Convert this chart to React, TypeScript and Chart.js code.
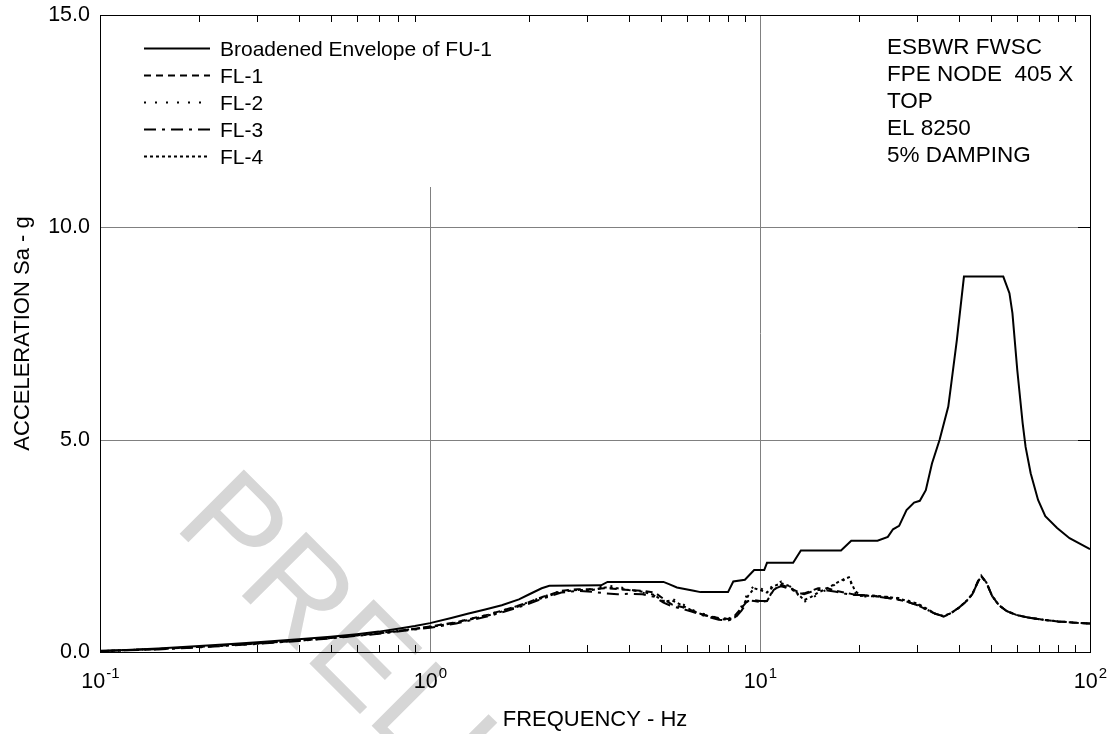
import React, { useEffect, useRef } from "react";
import { Chart, registerables } from "chart.js";

Chart.register(...registerables);

const FONT = "Arial, 'Liberation Sans', Helvetica, sans-serif";

// ---------- data ----------
const envFreq = [0.1, 0.12, 0.15, 0.2, 0.25, 0.3, 0.4, 0.5, 0.6, 0.7, 0.8, 0.9, 1.0, 1.16, 1.3, 1.47, 1.65, 1.86, 2.0, 2.18, 2.3, 3.3, 3.45, 5.1, 5.3, 5.6, 6.3, 6.6, 8.0, 8.3, 9.0, 9.6, 10.3, 10.5, 12.6, 13.3, 17.6, 18.9, 22.7, 24.4, 25.3, 26.4, 27.8, 29.3, 30.5, 31.8, 33.2, 35.0, 37.2, 38.0, 39.5, 41.5, 54.6, 57.0, 58.2, 60.2, 62.5, 63.8, 66.1, 69.6, 73.2, 79.5, 86.7, 100];
const envAccel = [0.03, 0.05, 0.08, 0.14, 0.19, 0.23, 0.3, 0.36, 0.42, 0.48, 0.55, 0.61, 0.68, 0.8, 0.9, 1.0, 1.1, 1.24, 1.36, 1.5, 1.56, 1.57, 1.65, 1.65, 1.6, 1.52, 1.44, 1.41, 1.41, 1.66, 1.7, 1.93, 1.93, 2.1, 2.1, 2.39, 2.39, 2.62, 2.62, 2.71, 2.89, 2.97, 3.34, 3.52, 3.56, 3.81, 4.44, 4.99, 5.78, 6.33, 7.35, 8.84, 8.84, 8.45, 7.98, 6.64, 5.39, 4.83, 4.21, 3.58, 3.2, 2.92, 2.68, 2.42];

const flFreq = [0.1, 0.15, 0.2, 0.3, 0.4, 0.5, 0.6, 0.7, 0.8, 0.9, 1.0, 1.2, 1.5, 1.8, 2.0, 2.2, 2.5, 2.8, 3.1, 3.4, 3.7, 4.0, 4.4, 4.8, 5.1, 5.4, 5.8, 6.2, 6.6, 7.0, 7.5, 8.0, 8.4, 8.8, 9.2, 9.6, 10.0, 10.5, 11.0, 11.6, 12.2, 13.0, 13.6, 14.3, 15.0, 16.0, 17.0, 18.0, 18.6, 19.4, 20.2, 22, 24, 26, 28, 30, 32, 34, 36, 38, 40, 42, 44, 45.8, 46.8, 48.5, 50.5, 53, 56, 60, 65, 72, 80, 90, 100];

const fl1 = [0.02, 0.07, 0.12, 0.2, 0.27, 0.33, 0.39, 0.44, 0.5, 0.55,
  0.6, 0.7, 0.88, 1.06, 1.18, 1.3, 1.44, 1.48, 1.48, 1.5,
  1.48, 1.46, 1.44, 1.4, 1.25, 1.12, 1.06, 0.98, 0.9, 0.84,
  0.8, 0.78, 0.86, 1.04, 1.22, 1.2, 1.18, 1.2, 1.46, 1.58,
  1.52, 1.42, 1.38, 1.44, 1.5, 1.5, 1.44, 1.4, 1.38, 1.35,
  1.34, 1.32, 1.28, 1.24, 1.18, 1.1, 1.0, 0.9, 0.83, 0.92,
  1.04, 1.18, 1.36, 1.68, 1.8, 1.64, 1.32, 1.1, 0.96, 0.87,
  0.81, 0.76, 0.72, 0.69, 0.67];

const fl2 = [0.02, 0.07, 0.12, 0.2, 0.27, 0.33, 0.39, 0.45, 0.5, 0.55,
  0.6, 0.7, 0.88, 1.06, 1.18, 1.3, 1.44, 1.46, 1.48, 1.56,
  1.54, 1.48, 1.4, 1.32, 1.2, 1.26, 1.14, 1.0, 0.92, 0.86,
  0.8, 0.78, 0.84, 1.08, 1.4, 1.56, 1.5, 1.44, 1.58, 1.66,
  1.58, 1.36, 1.18, 1.26, 1.36, 1.48, 1.6, 1.7, 1.74, 1.4,
  1.3, 1.32, 1.3, 1.28, 1.22, 1.12, 1.0, 0.9, 0.84, 0.92,
  1.04, 1.18, 1.36, 1.66, 1.78, 1.64, 1.32, 1.1, 0.96, 0.87,
  0.81, 0.76, 0.72, 0.69, 0.67];

const fl3 = [0.02, 0.06, 0.11, 0.19, 0.26, 0.32, 0.38, 0.43, 0.48, 0.53,
  0.57, 0.67, 0.84, 1.02, 1.14, 1.26, 1.4, 1.44, 1.42, 1.38,
  1.36, 1.37, 1.36, 1.3, 1.16, 1.08, 1.02, 0.95, 0.88, 0.82,
  0.76, 0.74, 0.8, 0.98, 1.2, 1.22, 1.2, 1.2, 1.48, 1.55,
  1.5, 1.4, 1.36, 1.42, 1.46, 1.45, 1.42, 1.38, 1.36, 1.34,
  1.34, 1.31, 1.28, 1.24, 1.18, 1.1, 1.0, 0.9, 0.84, 0.92,
  1.04, 1.18, 1.36, 1.66, 1.78, 1.64, 1.32, 1.1, 0.96, 0.87,
  0.81, 0.76, 0.72, 0.69, 0.67];

const fl4 = [0.02, 0.07, 0.12, 0.2, 0.27, 0.33, 0.39, 0.44, 0.49, 0.54,
  0.59, 0.69, 0.86, 1.04, 1.16, 1.28, 1.42, 1.46, 1.46, 1.52,
  1.5, 1.46, 1.42, 1.34, 1.18, 1.22, 1.1, 0.98, 0.9, 0.84,
  0.78, 0.76, 0.82, 1.02, 1.32, 1.5, 1.46, 1.4, 1.55, 1.62,
  1.56, 1.38, 1.22, 1.3, 1.4, 1.5, 1.62, 1.72, 1.76, 1.44,
  1.32, 1.33, 1.3, 1.27, 1.2, 1.14, 1.02, 0.9, 0.85, 0.92,
  1.04, 1.18, 1.36, 1.66, 1.78, 1.64, 1.32, 1.1, 0.96, 0.87,
  0.81, 0.76, 0.72, 0.69, 0.67];

const seriesLabels = ["Broadened Envelope of FU-1", "FL-1", "FL-2", "FL-3", "FL-4"];
const seriesDashes: number[][] = [[], [7, 5], [2, 9], [12, 6, 3, 6], [3, 3]];
const infoLines = ["ESBWR FWSC", "FPE NODE  405 X", "TOP", "EL 8250", "5% DAMPING"];
const xMajorTicks = [0.1, 1, 10, 100];
const xTickExponents = ["-1", "0", "1", "2"];
const yMajorTicks = [0, 5, 10, 15];
const yGridValues = [5, 10];
const xGridValues = [1, 10];
const xTitle = "FREQUENCY - Hz";
const yTitle = "ACCELERATION Sa - g";
const watermark = "PRELIMINARY";

const toPoints = (xs: number[], ys: number[]) => xs.map((x, i) => ({ x, y: ys[i] }));

const drawPlugin = {
  id: "customDraw",
  beforeDraw(chart: any) {
    const ctx = chart.ctx;
    ctx.save();
    ctx.fillStyle = "#ffffff";
    ctx.fillRect(0, 0, chart.width, chart.height);
    // watermark
    ctx.translate(172, 526);
    ctx.rotate((45 * Math.PI) / 180);
    ctx.font = `132px ${FONT}`;
    ctx.fillStyle = "#d6d6d6";
    ctx.textAlign = "left";
    ctx.textBaseline = "alphabetic";
    ctx.fillText(watermark, 0, 0);
    ctx.restore();
  },
  beforeDatasetsDraw(chart: any) {
    const ctx = chart.ctx;
    const { left, right, top, bottom } = chart.chartArea;
    const xs = chart.scales.x;
    const ys = chart.scales.y;
    ctx.save();
    ctx.strokeStyle = "#808080";
    ctx.lineWidth = 1;
    ctx.beginPath();
    yGridValues.forEach((v) => {
      const y = Math.round(ys.getPixelForValue(v)) + 0.5;
      ctx.moveTo(left, y);
      ctx.lineTo(right, y);
    });
    xGridValues.forEach((v) => {
      const x = Math.round(xs.getPixelForValue(v)) + 0.5;
      ctx.moveTo(x, v === 1 ? 187 : top);
      ctx.lineTo(x, bottom);
    });
    ctx.stroke();
    // minor ticks on top and bottom
    ctx.strokeStyle = "#000000";
    ctx.beginPath();
    for (let d = 0.1; d < 100; d *= 10) {
      for (let m = 2; m <= 9; m++) {
        const x = Math.round(xs.getPixelForValue(d * m)) + 0.5;
        ctx.moveTo(x, bottom);
        ctx.lineTo(x, bottom - 7);
        ctx.moveTo(x, top);
        ctx.lineTo(x, top + 7);
      }
    }
    yGridValues.forEach((v) => {
      const y = Math.round(ys.getPixelForValue(v)) + 0.5;
      ctx.moveTo(right, y);
      ctx.lineTo(right - 12, y);
    });
    ctx.stroke();
    ctx.restore();
  },
  afterDatasetsDraw(chart: any) {
    const ctx = chart.ctx;
    const { left, right, top, bottom } = chart.chartArea;
    const xs = chart.scales.x;
    ctx.save();
    // frame
    ctx.strokeStyle = "#000000";
    ctx.lineWidth = 1;
    ctx.strokeRect(Math.round(left) + 0.5, Math.round(top) + 0.5, Math.round(right - left), Math.round(bottom - top));
    // legend
    ctx.font = `21px ${FONT}`;
    ctx.fillStyle = "#000";
    ctx.textAlign = "left";
    ctx.textBaseline = "alphabetic";
    seriesLabels.forEach((lab, i) => {
      const base = 56 + i * 27;
      ctx.save();
      ctx.lineWidth = 2;
      ctx.setLineDash(seriesDashes[i]);
      ctx.beginPath();
      ctx.moveTo(144, base - 7.5);
      ctx.lineTo(210, base - 7.5);
      ctx.stroke();
      ctx.restore();
      ctx.fillText(lab, 220, base);
    });
    // info text
    ctx.font = `22.5px ${FONT}`;
    infoLines.forEach((t, i) => {
      ctx.fillText(t, 887, 54 + i * 27);
    });
    // x tick labels with superscripts
    xMajorTicks.forEach((v, i) => {
      const x = xs.getPixelForValue(v);
      ctx.font = `21.5px ${FONT}`;
      const w1 = ctx.measureText("10").width;
      ctx.font = `15px ${FONT}`;
      const w2 = ctx.measureText(xTickExponents[i]).width;
      const start = x - (w1 + w2) / 2;
      ctx.font = `21.5px ${FONT}`;
      ctx.fillText("10", start, 688);
      ctx.font = `15px ${FONT}`;
      ctx.fillText(xTickExponents[i], start + w1 + 1, 678);
    });
    // axis titles
    ctx.font = `22px ${FONT}`;
    ctx.textAlign = "center";
    ctx.fillText(xTitle, (left + right) / 2, 726);
    ctx.translate(29, (top + bottom) / 2);
    ctx.rotate(-Math.PI / 2);
    ctx.fillText(yTitle, 0, 0);
    ctx.restore();
  },
};

export default function App() {
  const ref = useRef<HTMLCanvasElement | null>(null);
  useEffect(() => {
    if (!ref.current) return;
    const common = { pointRadius: 0, borderColor: "#000000", borderWidth: 2, fill: false, tension: 0 };
    const chart = new Chart(ref.current, {
      type: "line",
      data: {
        datasets: [
          { ...common, label: seriesLabels[1], data: toPoints(flFreq, fl1), borderDash: seriesDashes[1] },
          { ...common, label: seriesLabels[2], data: toPoints(flFreq, fl2), borderDash: seriesDashes[2] },
          { ...common, label: seriesLabels[3], data: toPoints(flFreq, fl3), borderDash: seriesDashes[3] },
          { ...common, label: seriesLabels[4], data: toPoints(flFreq, fl4), borderDash: seriesDashes[4] },
          { ...common, label: seriesLabels[0], data: toPoints(envFreq, envAccel), borderDash: seriesDashes[0] },
        ],
      },
      options: {
        responsive: false,
        animation: false,
        devicePixelRatio: 1,
        layout: { padding: { top: 15, right: 23, left: 0, bottom: 0 } },
        plugins: { legend: { display: false }, tooltip: { enabled: false } },
        scales: {
          x: {
            type: "logarithmic",
            min: 0.1,
            max: 100,
            grid: { display: false, drawTicks: false },
            border: { display: false },
            ticks: { display: false },
            afterFit: (s: any) => { s.height = 82; s.paddingLeft = 0; s.paddingRight = 0; },
          },
          y: {
            type: "linear",
            min: 0,
            max: 15,
            afterBuildTicks: (s: any) => { s.ticks = yMajorTicks.map((v) => ({ value: v })); },
            grid: { display: false, drawTicks: false },
            border: { display: false },
            ticks: {
              padding: 10,
              color: "#000000",
              font: { family: FONT, size: 21.5 },
              callback: (v: any) => Number(v).toFixed(1),
            },
            afterFit: (s: any) => { s.width = 100; s.paddingTop = 0; s.paddingBottom = 0; },
          },
        },
      },
      plugins: [drawPlugin],
    } as any);
    return () => chart.destroy();
  }, []);
  return (
    <div style={{ position: "absolute", left: 0, top: 0, width: 1113, height: 734, background: "#fff" }}>
      <canvas ref={ref} width={1113} height={734} />
    </div>
  );
}
